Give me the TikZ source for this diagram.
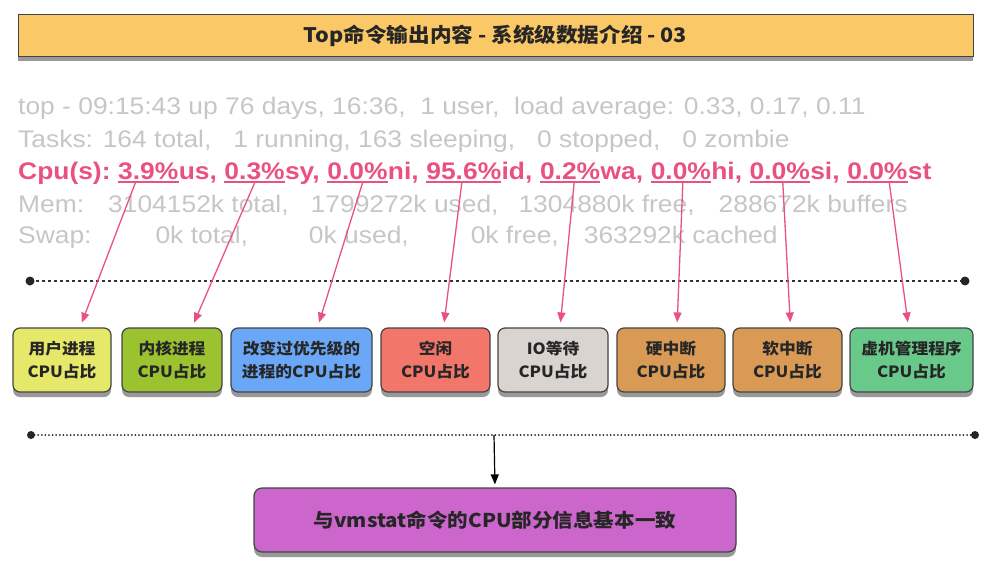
\documentclass[tikz,border=0pt]{standalone}
\usepackage{fontspec}
\setmainfont{Liberation Sans}
\newfontfamily\topfont{Liberation Sans}[FakeStretch=1.1]
\newfontfamily\cjk{Noto Sans CJK SC}[FakeStretch=1.08]
\usetikzlibrary{arrows.meta,positioning,shadows}

\definecolor{topgray}{HTML}{C6C6C6}
\definecolor{cpupink}{HTML}{E9527F}
\definecolor{boxline}{HTML}{444444}
\definecolor{titlefill}{HTML}{FBC867}
\definecolor{usrfill}{HTML}{E6E86A}
\definecolor{sysfill}{HTML}{9BC22F}
\definecolor{nicefill}{HTML}{6BA7F7}
\definecolor{idlefill}{HTML}{F2776A}
\definecolor{waitfill}{HTML}{D9D4CF}
\definecolor{irqfill}{HTML}{D99A56}
\definecolor{stealfill}{HTML}{68C98A}
\definecolor{sumfill}{HTML}{CC66CC}

\begin{document}
\begin{tikzpicture}[x=1pt,y=-1pt,
  graytext/.style={text=topgray,font=\topfont\fontsize{24}{28}\selectfont,inner sep=0pt,anchor=base west},
  cpu/.style={text=cpupink,font=\topfont\bfseries\fontsize{24}{28}\selectfont,inner sep=0pt},
  uline/.style={draw=cpupink,line width=1.6pt},
  pinkarrow/.style={draw=cpupink,line width=1.3pt,-{Triangle[length=10pt,width=8pt]},shorten >=5pt},
  softshadow/.style={drop shadow={shadow xshift=0pt,shadow yshift=-5pt,fill=black,opacity=0.4}},
  cpubox/.style={draw=boxline,line width=1.2pt,rounded corners=7pt,minimum height=64pt,
    align=center,text=black!85,font=\cjk\bfseries\fontsize{15.5}{23}\selectfont,softshadow},
  sepdash/.style={draw=black!80,line width=1.2pt,dash pattern=on 3pt off 3pt},
  sepdots/.style={draw=black!85,line width=2pt,line cap=round,dash pattern=on 0pt off 3.6pt}]
  \useasboundingbox (0,0) rectangle (987,578);

  % Title bar
  \node[draw=boxline,line width=1pt,fill=titlefill,minimum width=955pt,minimum height=42pt,
    font=\cjk\bfseries\fontsize{20}{22}\selectfont,text=black!85,softshadow] (title) at (495.5,35.5)
    {Top命令输出内容 - 系统级数据介绍 - 03};

  % top output lines
  \node[graytext] (l1) at (18,114) {top - 09:15:43 up 76 days, 16:36,\ \ 1 user,\ \ load average: 0.33, 0.17, 0.11};
  \node[graytext] (l2) at (18,147) {Tasks: 164 total,\ \ \ 1 running, 163 sleeping,\ \ \ 0 stopped,\ \ \ 0 zombie};
  \node[graytext] (l4) at (18,212) {Mem:\hspace{24pt}3104152k total,\hspace{22pt}1799272k used,\hspace{20pt}1304880k free,\hspace{24pt}288672k buffers};
  \node[graytext] (l5) at (18,243) {Swap:\hspace{64pt}0k total,\hspace{61pt}0k used,\hspace{62pt}0k free,\hspace{25pt}363292k cached};

  % Cpu(s) line, one node per piece
  \node[cpu,anchor=base west] (t0) at (18,179) {Cpu(s):\kern.3em};
  \foreach \num/\lab [count=\i] in {3.9/us,0.3/sy,0.0/ni,95.6/id,0.2/wa,0.0/hi,0.0/si,0.0/st} {
    \pgfmathtruncatemacro\j{\i-1}
    \node[cpu,base right=0pt of t\j] (n\i) {\num\%};
    \ifnum\i<8
      \node[cpu,base right=0pt of n\i] (t\i) {\lab,\kern.3em};
    \else
      \node[cpu,base right=0pt of n\i] (t\i) {\lab};
    \fi
    \draw[uline] ([yshift=-3pt]n\i.base west) -- ([yshift=-3pt]n\i.base east);
  }

  % upper separator
  \coordinate (d1a) at (30,281);
  \coordinate (d1b) at (965,281);
  \draw[sepdash] (d1a) -- (d1b);
  \fill[black!85] (d1a) circle (4.5pt) (d1b) circle (4.5pt);

  % CPU boxes
  \foreach \i/\x/\w/\c/\txt in {1/62/98/usrfill/{用户进程\\CPU占比},
      2/172/100/sysfill/{内核进程\\CPU占比},
      3/301.5/141/nicefill/{改变过优先级的\\进程的CPU占比},
      4/435.5/109/idlefill/{空闲\\CPU占比},
      5/553/110/waitfill/{IO等待\\CPU占比},
      6/671/108/irqfill/{硬中断\\CPU占比},
      7/787.5/109/irqfill/{软中断\\CPU占比},
      8/911.5/123/stealfill/{虚机管理程序\\CPU占比}} {
    \node[cpubox,fill=\c,minimum width=\w] (b\i) at (\x,360) {\txt};
  }

  % arrows from the values to the boxes
  \foreach \i/\sx/\ex in {1/-13/18,2/0/20,3/5/16,4/-2/8,5/4/7,6/2/6,7/3/3,8/12/-3}
    \draw[pinkarrow] ([xshift=\sx pt,yshift=-4pt]n\i.base) -- ([xshift=\ex pt]b\i.north);

  % lower separator
  \coordinate (d2a) at (31,435);
  \coordinate (d2b) at (975,435);
  \coordinate (d2m) at (494,435);
  \draw[sepdots] (d2a) -- (d2b);
  \fill[black!85] (d2a) circle (4pt) (d2b) circle (4pt);

  % summary
  \node[cpubox,fill=sumfill,minimum width=482pt,rounded corners=8pt,
    font=\cjk\bfseries\fontsize{19}{22}\selectfont] (sum) at (495,520)
    {与vmstat命令的CPU部分信息基本一致};
  \draw[line width=1.2pt,-{Triangle[length=10pt,width=8pt]},shorten >=3pt] (d2m) -- (sum.north);
\end{tikzpicture}
\end{document}
